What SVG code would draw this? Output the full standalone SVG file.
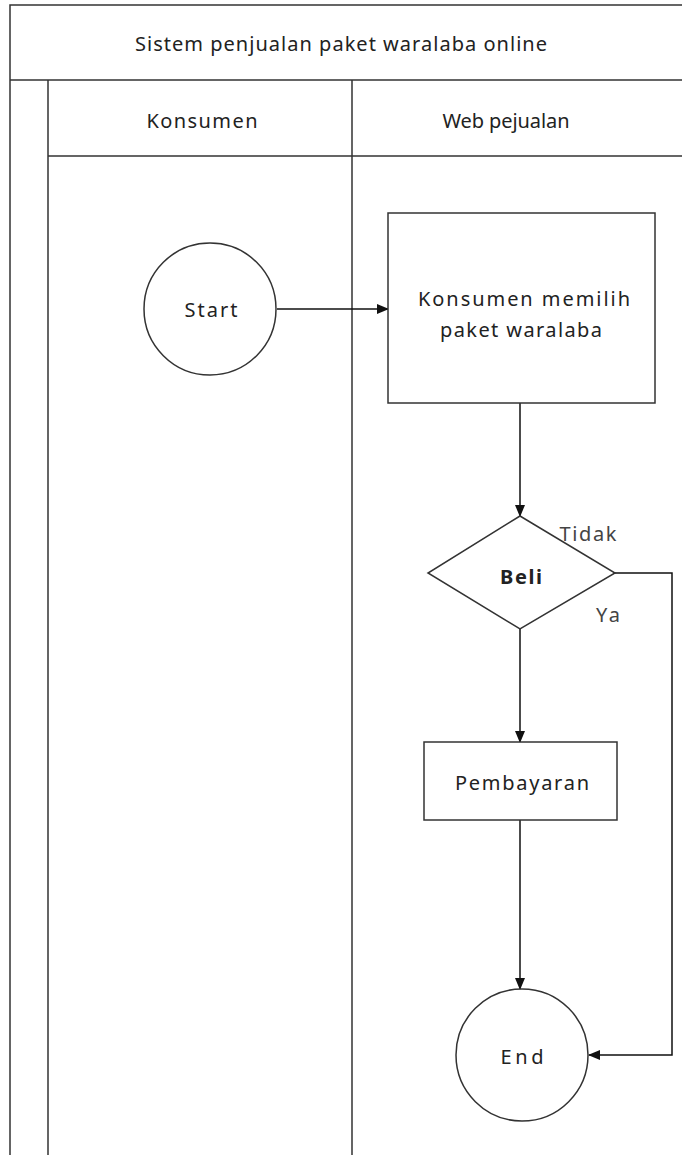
<svg xmlns="http://www.w3.org/2000/svg" width="682" height="1155" viewBox="0 0 682 1155">
<style>
.ln{fill:none;stroke:#333;stroke-width:1.5}
.sh{fill:#fff;stroke:#333;stroke-width:1.5}
.t{font-family:"Noto Sans","DejaVu Sans",sans-serif;font-size:20px;fill:#222;text-anchor:middle;dominant-baseline:central}
.c{fill:none;stroke:#111;stroke-width:1.5}
</style>
<defs>
<marker id="ah" markerWidth="12" markerHeight="10" refX="11" refY="5" orient="auto" markerUnits="userSpaceOnUse">
<path d="M0,0 L12,5 L0,10 Z" fill="#111"/>
</marker>
</defs>
<rect width="682" height="1155" fill="#fff"/>
<g id="pool">
<path class="ln" d="M10,1155 V5 H690 M10,80 H690 M48,80 V1155 M352,80 V1155 M48,156 H690"/>
<text class="t" x="341" y="43" textLength="412">Sistem penjualan paket waralaba online</text>
<text class="t" x="202" y="120" textLength="111">Konsumen</text>
<text class="t" x="506" y="120" textLength="127">Web pejualan</text>
</g>
<g id="connectors">
<path class="c" d="M277,309 H388" marker-end="url(#ah)"/>
<path class="c" d="M520,403 V516" marker-end="url(#ah)"/>
<path class="c" d="M520,629 V742" marker-end="url(#ah)"/>
<path class="c" d="M520,820 V989" marker-end="url(#ah)"/>
<path class="c" d="M615,573 H672 V1055 H589" marker-end="url(#ah)"/>
<text class="t" x="588" y="533" textLength="57" style="fill:#444">Tidak</text>
<text class="t" x="608" y="614" textLength="24" style="fill:#444">Ya</text>
</g>
<g id="start">
<circle class="sh" cx="210" cy="309" r="66"/>
<text class="t" x="211" y="309" textLength="53">Start</text>
</g>
<g id="pilih">
<rect class="sh" x="388" y="213" width="267" height="190"/>
<text class="t" x="524" y="298" textLength="212">Konsumen memilih</text>
<text class="t" x="521" y="329" textLength="162">paket waralaba</text>
</g>
<g id="beli">
<path class="sh" d="M520,516 L615,573 L520,629 L428,573 Z"/>
<text class="t" x="521" y="576" textLength="42" style="font-weight:bold">Beli</text>
</g>
<g id="pembayaran">
<rect class="sh" x="424" y="742" width="193" height="78"/>
<text class="t" x="522" y="782" textLength="134">Pembayaran</text>
</g>
<g id="end">
<circle class="sh" cx="522" cy="1055" r="66"/>
<text class="t" x="522" y="1056" textLength="43">End</text>
</g>
</svg>
